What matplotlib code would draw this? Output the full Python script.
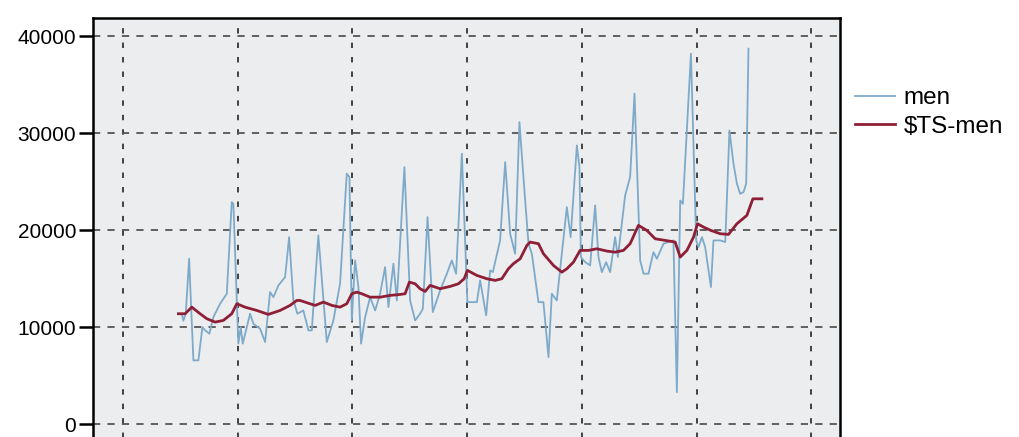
import matplotlib
matplotlib.use("Agg")
import matplotlib.pyplot as plt

# time in months (gridlines every 12 months)
men_t = [5.79, 6.14, 6.31, 6.56, 6.91, 7.36, 7.88, 8.30, 8.58, 9.03, 9.45, 10.15,
         10.85, 11.37, 11.54, 12.06, 12.31, 12.52, 13.29, 13.63, 14.33, 14.86, 15.38,
         15.73, 16.25, 16.95, 17.37, 17.82, 18.24, 18.86, 19.39, 19.74, 20.43, 21.31,
         22.00, 22.70, 23.40, 23.68, 23.93, 24.27, 24.62, 24.90, 25.32, 25.84, 26.37,
         26.89, 27.41, 27.76, 28.28, 28.64, 29.43, 30.03, 30.55, 31.07, 31.36, 31.85,
         32.40, 33.17, 33.87, 34.39, 34.84, 35.44, 36.02, 37.01, 37.35, 37.98, 38.40,
         38.68, 39.44, 39.97, 40.49, 41.01, 41.46, 42.06, 42.41, 42.76, 43.45, 43.97,
         44.50, 44.85, 45.37, 46.42, 46.82, 47.47, 47.74, 47.89, 48.34, 48.86, 49.38,
         49.73, 50.08, 50.53, 50.95, 51.47, 51.76, 52.52, 53.04, 53.50, 54.09, 54.44,
         54.96, 55.48, 55.84, 56.53, 57.57, 57.93, 58.28, 58.56, 59.40, 59.95, 60.19,
         60.55, 60.89, 61.49, 61.76, 62.46, 62.99, 63.43, 63.85, 64.21, 64.55, 64.90,
         65.18, 65.42]
men = [11400, 11400, 10700, 11400, 17080, 6600, 6600, 10030, 9700, 9350, 11060, 12440,
       13470, 22920, 22750, 8320, 10030, 8320, 11410, 10380, 9870, 8490, 13640,
       13120, 14330, 15190, 19310, 12780, 11410, 11750, 9690, 9690, 19490, 8490,
       10720, 14510, 25850, 25500, 10720, 16910, 14160, 8320, 11060, 13120, 11750,
       13470, 16220, 12090, 16570, 12780, 26530, 12780, 10720, 11410, 11930, 21370,
       11580, 13820, 15540, 16910, 15540, 27910, 12610, 12610, 14850, 11240, 15880,
       15700, 18970, 27040, 19660, 17600, 31170, 23090, 18630, 17600, 12610, 12610,
       6940, 13470, 12780, 22400, 19310, 28760, 26530, 17250, 16730, 16390, 22580,
       17250, 15700, 16730, 15700, 19310, 17250, 23610, 25500, 34100, 16910, 15540,
       15540, 17760, 17080, 18630, 18970, 3330, 23090, 22750, 38220, 18970, 18280,
       19310, 18280, 14160, 18970, 18970, 18800, 30310, 26880, 24820, 23780, 23950,
       24820, 38740]

ts_t = [5.79, 6.49, 7.19, 8.06, 8.76, 9.63, 10.49, 11.37, 11.90, 12.76, 13.99, 15.20,
        16.43, 17.47, 18.17, 18.52, 19.56, 20.09, 20.96, 21.84, 22.70, 23.40, 23.93,
        24.45, 24.97, 25.84, 26.89, 27.93, 28.98, 29.50, 29.95, 30.55, 31.07, 31.60,
        32.12, 33.17, 34.22, 35.08, 35.68, 36.02, 37.01, 38.05, 38.92, 39.62, 40.31,
        40.83, 41.54, 42.24, 42.58, 43.45, 43.97, 45.02, 45.90, 46.42, 47.11, 47.81,
        48.68, 49.56, 50.61, 51.48, 52.34, 53.04, 53.91, 54.79, 55.66, 56.71, 57.75,
        58.28, 58.98, 59.67, 60.09, 60.72, 61.49, 62.46, 63.33, 64.21, 65.25, 65.88,
        66.82]
ts_men = [11410, 11410, 12090, 11410, 10900, 10550, 10720, 11410, 12440, 12090, 11750,
          11340, 11750, 12270, 12780, 12780, 12440, 12270, 12610, 12270, 12090, 12440,
          13470, 13640, 13470, 13120, 13120, 13300, 13400, 13470, 14670, 14500, 13990,
          13710, 14330, 13990, 14230, 14500, 15020, 15880, 15360, 15020, 14850, 15020,
          16050, 16570, 17080, 18450, 18800, 18630, 17600, 16390, 15700, 16050, 16730,
          17940, 17940, 18110, 17870, 17760, 17940, 18630, 20520, 20000, 19140, 18970,
          18800, 17250, 17940, 19310, 20690, 20340, 20000, 19660, 19590, 20690, 21550,
          23260, 23260]

y_ticks = [0, 10000, 20000, 30000, 40000]
x_ticks = [0, 12, 24, 36, 48, 60, 72]

plt.rcParams['font.family'] = ['Liberation Sans', 'DejaVu Sans']

fig = plt.figure(figsize=(10.2, 4.37), dpi=100)
ax = fig.add_axes([0.0912, -0.0156, 0.7324, 0.9744])
ax.set_facecolor('#ECEDEF')

ax.plot(men_t, men, color='#7EAACA', linewidth=1.3, label='men')
ax.plot(ts_t, ts_men, color='#8E1F36', linewidth=2.0, label='$TS-men')

ax.set_xlim(-3.14, 75.0)
ax.set_ylim(-2000, 41900)
ax.set_xticks(x_ticks)
ax.set_yticks(y_ticks)
ax.set_xticklabels([])
ax.set_yticklabels([str(v) for v in y_ticks], fontsize=15)
ax.tick_params(axis='y', length=10, width=1.8, pad=2, color='black')

ax.yaxis.grid(True, linestyle=(0, (4, 4)), color='#555555', linewidth=1.3)
ax.xaxis.grid(True, linestyle=(0, (3, 5)), color='#333333', linewidth=1.3)
ax.set_axisbelow(True)
for sp in ax.spines.values():
    sp.set_linewidth(1.8)
    sp.set_color('black')

leg = fig.legend(loc='center left', bbox_to_anchor=(0.829, 0.7426), frameon=False,
                 fontsize=17.5, handlelength=1.65, handletextpad=0.35,
                 labelspacing=0.25, borderaxespad=0)

fig.savefig('out.png', dpi=100)
